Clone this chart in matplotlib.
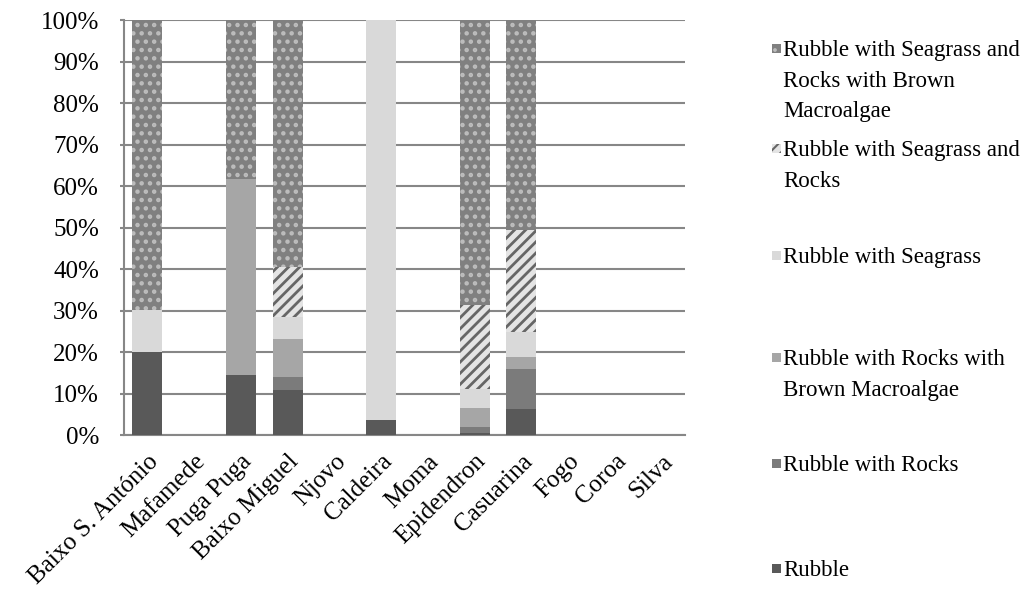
import matplotlib
matplotlib.use("Agg")
import matplotlib.pyplot as plt
from matplotlib.patches import Rectangle
import numpy as np

sites = ['Baixo S. António', 'Mafamede', 'Puga Puga', 'Baixo Miguel', 'Njovo',
         'Caldeira', 'Moma', 'Epidendron', 'Casuarina', 'Fogo', 'Coroa', 'Silva']

rubble = [20.1, 0, 14.5, 10.8, 0, 3.6, 0, 0.5, 6.3, 0, 0, 0]
rubble_rocks = [0, 0, 0, 3.1, 0, 0, 0, 1.5, 9.6, 0, 0, 0]
rubble_rocks_brown = [0, 0, 47.2, 9.2, 0, 0, 0, 4.6, 3.0, 0, 0, 0]
rubble_seagrass = [10.0, 0, 0, 5.4, 0, 96.4, 0, 4.5, 6.0, 0, 0, 0]
rubble_seagrass_rocks = [0, 0, 0, 12.0, 0, 0, 0, 20.2, 24.5, 0, 0, 0]
rubble_seagrass_rocks_brown = [69.9, 0, 38.3, 59.5, 0, 0, 0, 68.7, 50.6, 0, 0, 0]

series = [
    ('Rubble', rubble),
    ('Rubble with Rocks', rubble_rocks),
    ('Rubble with Rocks with\nBrown Macroalgae', rubble_rocks_brown),
    ('Rubble with Seagrass', rubble_seagrass),
    ('Rubble with Seagrass and\nRocks', rubble_seagrass_rocks),
    ('Rubble with Seagrass and\nRocks with Brown\nMacroalgae', rubble_seagrass_rocks_brown),
]

# face colour, hatch colour, hatch pattern
styles = [
    ('#595959', None, None),
    ('#7b7b7b', None, None),
    ('#a6a6a6', None, None),
    ('#d9d9d9', None, None),
    ('#e4e4e4', '#666666', '///'),
    ('#808080', '#bdbdbd', '..'),
]
hatch_widths = {'///': 2.0, '..': 2.0}

plt.rcParams['font.family'] = ['Liberation Serif', 'DejaVu Serif']
plt.rcParams['font.size'] = 18

fig = plt.figure(figsize=(10.27, 6.01), dpi=100)
ax = fig.add_axes([0.1207, 0.2762, 0.5463, 0.6905])

x = np.arange(len(sites))
bottom = np.zeros(len(sites))
for (label, vals), (fc, hc, hatch) in zip(series, styles):
    vals = np.array(vals, dtype=float)
    if hatch:
        plt.rcParams['hatch.linewidth'] = hatch_widths[hatch]
        ax.bar(x, vals, 0.64, bottom=bottom, color=fc, edgecolor=hc,
               linewidth=0, hatch=hatch, zorder=3)
    else:
        ax.bar(x, vals, 0.64, bottom=bottom, color=fc, linewidth=0, zorder=3)
    bottom += vals

ax.set_xlim(-0.5, len(sites) - 0.5)
ax.set_ylim(0, 100)
ax.set_yticks(np.arange(0, 101, 10))
ax.set_yticklabels([f'{v}%' for v in range(0, 101, 10)])
ax.yaxis.grid(True, color='#878787', linewidth=1.5, zorder=0)
ax.set_axisbelow(True)
for s in ['top', 'right']:
    ax.spines[s].set_visible(False)
for s in ['left', 'bottom']:
    ax.spines[s].set_color('#878787')
    ax.spines[s].set_linewidth(1.5)
ax.tick_params(axis='y', length=3, width=1.5, color='#878787', pad=15)
ax.tick_params(axis='x', length=0, pad=11)
ax.set_xticks(x)
ax.set_xticklabels(sites, rotation=45, ha='right', va='top',
                   rotation_mode='anchor')

# legend, stacked top to bottom in reverse series order
legend_y = [48, 148, 255, 357, 463, 568]
for (label, _), (fc, hc, hatch), ypix in zip(series[::-1], styles[::-1], legend_y):
    yf = 1 - ypix / 601
    if hatch:
        plt.rcParams['hatch.linewidth'] = 1.5
    r = Rectangle((772 / 1027, yf - 4.5 / 601), 9 / 1027, 9 / 601,
                  transform=fig.transFigure, facecolor=fc,
                  edgecolor=hc if hc else fc, linewidth=0,
                  hatch=hatch)
    fig.patches.append(r)
    fig.text(783 / 1027, 1 - (ypix - 8) / 601, label, ha='left', va='top',
             fontsize=16.5, linespacing=1.6, transform=fig.transFigure)

fig.savefig('out.png', dpi=100)
